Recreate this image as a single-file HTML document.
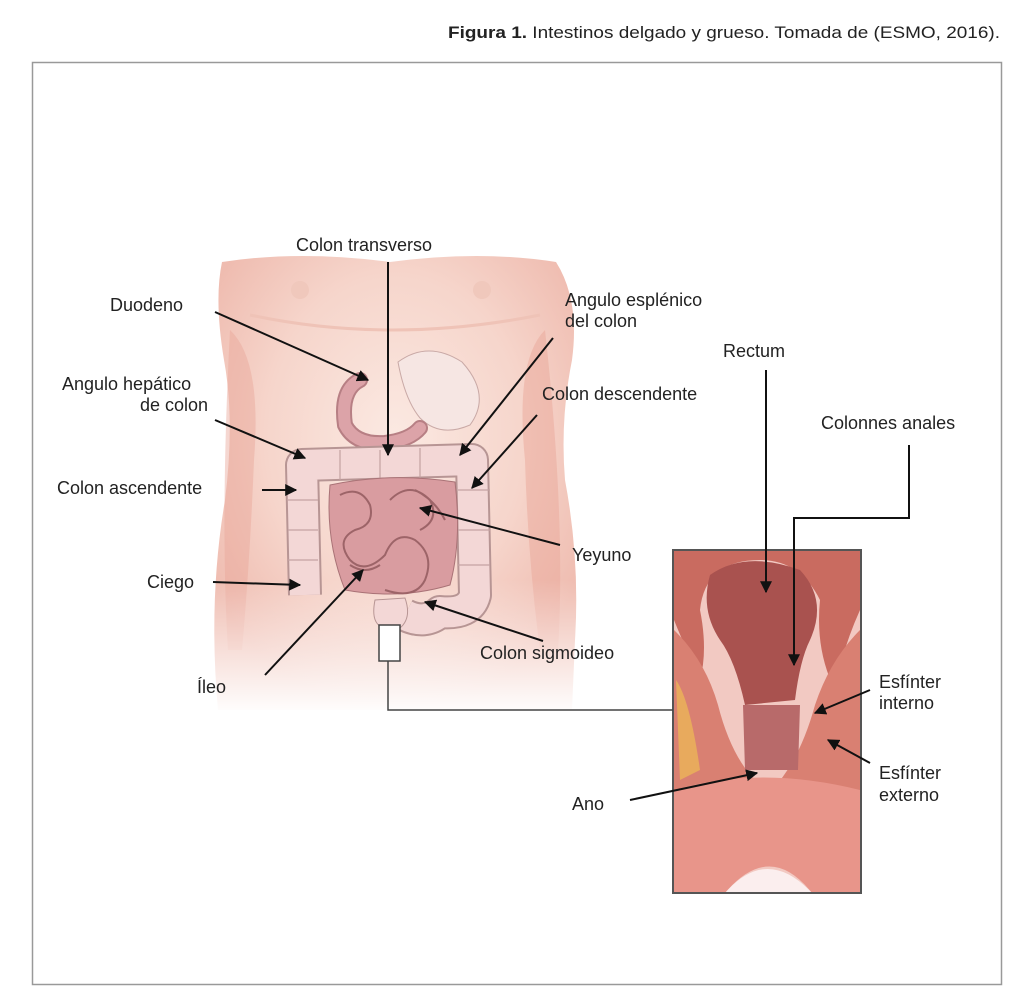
<!DOCTYPE html>
<html><head><meta charset="utf-8"><style>
html,body{margin:0;padding:0;background:#fff;width:1024px;height:1005px;overflow:hidden}
svg{display:block}
text{font-family:"Liberation Sans",sans-serif;fill:#222}
</style></head><body>
<svg width="1024" height="1005" viewBox="0 0 1024 1005" xmlns="http://www.w3.org/2000/svg">
<defs>
<marker id="a" viewBox="0 0 10 10" refX="9" refY="5" markerWidth="6" markerHeight="6" orient="auto"><path d="M0,0 L10,5 L0,10 z" fill="#111"/></marker>
<radialGradient id="skin" cx="50%" cy="40%" r="60%"><stop offset="0" stop-color="#fbe9e2"/><stop offset="0.6" stop-color="#f6d5cb"/><stop offset="1" stop-color="#efbcb0"/></radialGradient>
<linearGradient id="fade" x1="0" y1="0" x2="0" y2="1"><stop offset="0" stop-color="#fff" stop-opacity="0"/><stop offset="1" stop-color="#fff" stop-opacity="1"/></linearGradient>
</defs>
<text x="448" y="38" font-size="17" textLength="552" lengthAdjust="spacingAndGlyphs"><tspan font-weight="bold">Figura 1.</tspan> Intestinos delgado y grueso. Tomada de (ESMO, 2016).</text>
<rect x="32.5" y="62.5" width="969" height="922" fill="none" stroke="#999" stroke-width="1.5"/>

<!-- torso -->
<path d="M222,262 Q300,250 390,262 Q480,250 556,262 Q580,300 572,360 Q560,420 565,480 Q580,560 575,640 L572,710 L218,710 Q208,600 225,500 Q235,420 224,360 Q214,300 222,262 Z" fill="url(#skin)"/>
<path d="M230,330 Q262,360 254,460 Q250,560 242,650 L228,650 Q220,520 230,330Z" fill="#e9a79a" opacity="0.45"/>
<path d="M545,330 Q515,360 525,460 Q528,560 540,650 L558,650 Q566,520 545,330Z" fill="#e9a79a" opacity="0.5"/>
<path d="M250,315 Q390,345 540,315" fill="none" stroke="#efc3b7" stroke-width="3"/>
<rect x="205" y="580" width="390" height="135" fill="url(#fade)"/>
<circle cx="300" cy="290" r="9" fill="#f0c8bc"/><circle cx="482" cy="290" r="9" fill="#f0c8bc"/>
<!-- stomach -->
<path d="M398,362 Q428,340 462,362 Q492,395 470,425 Q440,438 420,418 Q405,400 398,362Z" fill="#f6e6e3" stroke="#c9a9a6"/>
<!-- duodenum -->
<path d="M360,380 Q340,390 345,425 Q355,445 385,443 Q410,440 420,428" fill="none" stroke="#b77f84" stroke-width="16" stroke-linecap="round"/>
<path d="M360,380 Q340,390 345,425 Q355,445 385,443 Q410,440 420,428" fill="none" stroke="#dca3a8" stroke-width="12" stroke-linecap="round"/>
<!-- large colon tube -->
<path d="M305,595 L302,465 L472,460 L475,595 Q470,615 440,612 Q425,625 405,615" fill="none" stroke="#b79594" stroke-width="34" stroke-linejoin="round"/>
<path d="M305,595 L302,465 L472,460 L475,595 Q470,615 440,612 Q425,625 405,615" fill="none" stroke="#f3d7d6" stroke-width="30" stroke-linejoin="round"/>
<path d="M375,600 Q370,625 385,628 L400,628 Q412,618 405,598Z" fill="#f3d7d6" stroke="#b79594"/>
<g stroke="#c4a2a2" stroke-width="1.2"><path d="M288,500 L318,500 M288,530 L318,530 M288,560 L318,560 M340,450 L340,480 M380,450 L380,478 M420,448 L420,478 M458,490 L490,490 M458,530 L490,530 M458,565 L490,565"/></g>
<!-- small intestine -->
<path d="M330,485 Q390,472 455,482 Q462,540 450,585 Q400,600 345,590 Q325,540 330,485Z" fill="#d99ca0" stroke="#a97276"/>
<path d="M340,495 q20,-10 30,10 q5,20 -15,25 q-20,10 -5,30 q15,15 35,-5 q10,-25 30,-15 q20,15 10,40 q-10,20 -40,10 M390,500 q20,-20 40,0 q10,20 -10,30 M350,565 q15,10 30,0 M415,490 q20,10 30,30" fill="none" stroke="#9d6468" stroke-width="2"/>
<rect x="379" y="625" width="21" height="36" fill="#fff" stroke="#444" stroke-width="1.5"/>

<!-- inset -->
<rect x="673" y="550" width="188" height="343" fill="#f2c9c2"/>
<path d="M674,551 L860,551 L860,610 Q842,650 835,690 Q815,650 820,600 Q800,560 760,560 Q705,560 700,610 Q708,650 700,680 Q682,640 674,620Z" fill="#c96b60"/>
<path d="M710,575 Q745,550 800,570 Q828,600 810,640 Q800,660 795,700 L745,705 Q735,660 720,640 Q700,610 710,575Z" fill="#a9524f"/>
<path d="M674,630 Q705,660 718,705 Q732,760 760,785 L772,790 Q800,760 815,705 Q830,660 860,630 L860,800 L674,800Z" fill="#d98072"/>
<path d="M676,680 Q690,700 700,770 L680,780Z" fill="#f2c650" opacity="0.6"/>
<path d="M743,705 L800,705 L798,770 L745,770Z" fill="#b86a6a"/>
<path d="M674,790 Q760,765 860,790 L860,893 L812,893 Q770,840 725,893 L674,893Z" fill="#e8958a"/>
<path d="M725,893 Q767,845 812,893Z" fill="#fbeeee"/>
<rect x="673" y="550" width="188" height="343" fill="none" stroke="#555" stroke-width="2"/>

<g stroke="#111" stroke-width="2" fill="none">
<line x1="388" y1="262" x2="388" y2="455" marker-end="url(#a)"/>
<line x1="215" y1="312" x2="368" y2="380" marker-end="url(#a)"/>
<line x1="553" y1="338" x2="460" y2="455" marker-end="url(#a)"/>
<line x1="766" y1="370" x2="766" y2="592" marker-end="url(#a)"/>
<line x1="215" y1="420" x2="305" y2="458" marker-end="url(#a)"/>
<line x1="537" y1="415" x2="472" y2="488" marker-end="url(#a)"/>
<polyline points="909,445 909,518 794,518 794,665" marker-end="url(#a)"/>
<line x1="262" y1="490" x2="296" y2="490" marker-end="url(#a)"/>
<line x1="560" y1="545" x2="420" y2="508" marker-end="url(#a)"/>
<line x1="213" y1="582" x2="300" y2="585" marker-end="url(#a)"/>
<line x1="543" y1="641" x2="425" y2="602" marker-end="url(#a)"/>
<line x1="265" y1="675" x2="363" y2="570" marker-end="url(#a)"/>
<polyline points="388,661 388,710 673,710" stroke="#444" stroke-width="1.5"/>
<line x1="870" y1="690" x2="815" y2="713" marker-end="url(#a)"/>
<line x1="870" y1="763" x2="828" y2="740" marker-end="url(#a)"/>
<line x1="630" y1="800" x2="757" y2="773" marker-end="url(#a)"/>
</g>

<g font-size="18">
<text x="296" y="251">Colon transverso</text>
<text x="110" y="311">Duodeno</text>
<text x="565" y="306">Angulo esplénico</text>
<text x="565" y="327">del colon</text>
<text x="723" y="357">Rectum</text>
<text x="62" y="390">Angulo hepático</text>
<text x="140" y="411">de colon</text>
<text x="542" y="400">Colon descendente</text>
<text x="821" y="429">Colonnes anales</text>
<text x="57" y="494">Colon ascendente</text>
<text x="572" y="561">Yeyuno</text>
<text x="147" y="588">Ciego</text>
<text x="480" y="659">Colon sigmoideo</text>
<text x="197" y="693">Íleo</text>
<text x="879" y="688">Esfínter</text>
<text x="879" y="709">interno</text>
<text x="879" y="779">Esfínter</text>
<text x="879" y="801">externo</text>
<text x="572" y="810">Ano</text>
</g>
</svg>
</body></html>
